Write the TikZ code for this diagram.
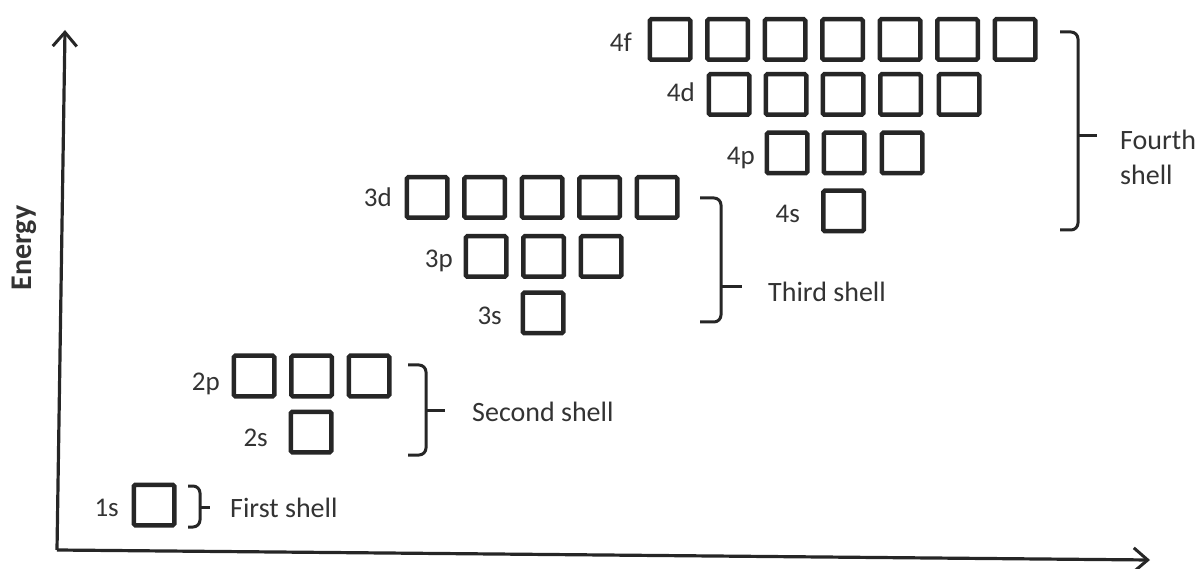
\documentclass[tikz,border=0pt]{standalone}
\usepackage{fontspec}
\setmainfont{Carlito}
\usetikzlibrary{arrows.meta}
\definecolor{ink}{HTML}{262626}
\definecolor{txt}{HTML}{333333}
\begin{document}
\begin{tikzpicture}[x=1pt,y=-1pt,
  orb/.style={draw=ink,line width=4.5pt,minimum size=40.5pt,inner sep=0pt,rounded corners=1.5pt},
  lab/.style={text=txt,font=\fontsize{27}{30}\selectfont,anchor=base east,inner sep=0pt},
  shelltxt/.style={text=txt,font=\fontsize{28}{32}\selectfont,anchor=base west,inner sep=0pt},
  brace/.style={draw=ink,line width=3pt,rounded corners=7pt},
  stub/.style={draw=ink,line width=3pt},
  axis/.style={draw=ink,line width=3.2pt,-{Straight Barb[length=14pt,width=24pt,line width=3pt]}}]
\useasboundingbox (0,0) rectangle (1200,569);
% axes
\coordinate (O) at (57,550);
\coordinate (Ytip) at (65,30);
\coordinate (Xtip) at (1150,560);
\draw[axis] (O) -- (Ytip);
\draw[axis] (O) -- (Xtip);
\node[text=txt,font=\fontsize{30}{34}\selectfont\bfseries,rotate=90,inner sep=0pt] (energy) at (24,248) {Energy};
% 1s
\node[orb] (s1) at (154,505) {};
\node[lab] (l1s) at (119,516) {1s};
% 2nd shell
\node[orb] (p2a) at (254,376) {};
\node[orb] (p2b) at (311.5,376) {};
\node[orb] (p2c) at (369,376) {};
\node[orb] (s2) at (311,432) {};
\node[lab] (l2p) at (220,390) {2p};
\node[lab] (l2s) at (268,446) {2s};
% 3rd shell
\foreach \i/\x in {1/427,2/484.5,3/542,4/599.5,5/657}{\node[orb] (d3\i) at (\x,197.5) {};}
\foreach \i/\x in {1/486,2/543.5,3/601}{\node[orb] (p3\i) at (\x,256.5) {};}
\node[orb] (s3) at (543,313) {};
\node[lab] (l3d) at (392,207) {3d};
\node[lab] (l3p) at (453,268) {3p};
\node[lab] (l3s) at (502,325) {3s};
% 4th shell
\foreach \i/\x in {1/670,2/727.5,3/785,4/842.5,5/900,6/957.5,7/1015}{\node[orb] (f4\i) at (\x,39.5) {};}
\foreach \i/\x in {1/729,2/786,3/843,4/900.5,5/959}{\node[orb] (d4\i) at (\x,94.5) {};}
\foreach \i/\x in {1/787,2/844,3/902}{\node[orb] (p4\i) at (\x,153) {};}
\node[orb] (s4) at (843.5,211) {};
\node[lab] (l4f) at (632,52) {4f};
\node[lab] (l4d) at (695,102) {4d};
\node[lab] (l4p) at (755,165) {4p};
\node[lab] (l4s) at (800,223) {4s};
% braces
\draw[brace] (188,486) -- (200,486) -- (200,527) -- (188,527);
\draw[stub] (200,507) -- (210,507);
\draw[brace] (408,365) -- (426,365) -- (426,455) -- (408,455);
\draw[stub] (426,410) -- (445,410);
\draw[brace] (700,198) -- (721,198) -- (721,322) -- (700,322);
\draw[stub] (721,287) -- (742,287);
\draw[brace] (1060,32) -- (1078,32) -- (1078,230) -- (1060,230);
\draw[stub] (1078,136) -- (1097,136);
% shell labels
\node[shelltxt] (t1) at (230,517) {First shell};
\node[shelltxt] (t2) at (472,421) {Second shell};
\node[shelltxt] (t3) at (768,302) {Third shell};
\node[shelltxt] (t4a) at (1120,150) {Fourth};
\node[shelltxt] (t4b) at (1120,185) {shell};
\end{tikzpicture}
\end{document}
